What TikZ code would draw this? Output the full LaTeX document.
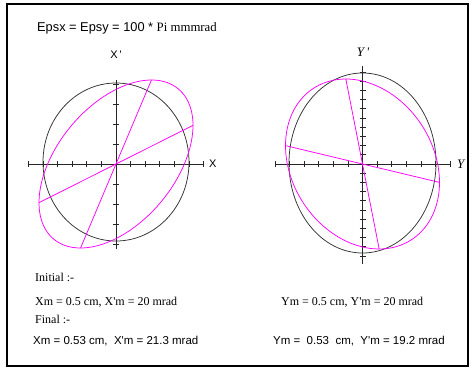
\documentclass[tikz,border=0pt]{standalone}
\usepackage{fontspec}
\setmainfont{Liberation Serif}
\setsansfont{Liberation Sans}
\usetikzlibrary{positioning}
\definecolor{beammag}{RGB}{255,0,255}

\begin{document}
\begin{tikzpicture}[
    x=1pt, y=-1pt,
    frame/.style={draw=black, line width=2pt},
    axis/.style={draw=black!85, line width=0.8pt},
    tick/.style={draw=black!85, line width=0.8pt},
    emittance/.style={draw=black!80, line width=0.75pt},
    beam/.style={draw=beammag, line width=0.75pt},
    serif/.style={font=\fontsize{12}{14}\selectfont\rmfamily, inner sep=0pt, anchor=base west},
    sans/.style={font=\fontsize{11.5}{14}\selectfont\sffamily, inner sep=0pt, anchor=base west},
    axlabel/.style={font=\fontsize{11}{13}\selectfont\sffamily, inner sep=0pt},
    aylabel/.style={font=\fontsize{13}{15}\selectfont\rmfamily\itshape, inner sep=0pt}
]
    \useasboundingbox (0,0) rectangle (472,368);
    \draw[frame] (7,4) rectangle (468,366);

    % Title
    \node[sans, font=\fontsize{12.8}{15}\selectfont\sffamily] (title) at (37,31)
        {Epsx = Epsy = 100 * \rmfamily Pi mmmrad};

    % Left plot (X, X')
    \coordinate (ox) at (116,164);
    \coordinate (xl) at (28,164);
    \coordinate (xr) at (204,164);
    \coordinate (xt) at (116,80);
    \coordinate (xb) at (116,249);
    \draw[axis] (xl) -- (xr);
    \draw[axis] (xt) -- (xb);
    \foreach \k in {-6,...,6} \draw[tick] ({116+14.6*\k},161) -- ({116+14.6*\k},167);
    \foreach \k in {-4,...,4} \draw[tick] (113,{164+20*\k}) -- (119,{164+20*\k});
    \draw[emittance] (116,162) ellipse [x radius=73, y radius=79];
    \draw[beam] plot[domain=0:360, samples=120, smooth cycle]
        ({116+77*cos(\x)},{164-84*cos(\x-62.6)});
    \coordinate (xtop) at ({116+77*cos(62.6)},80);
    \coordinate (xbot) at ({116-77*cos(62.6)},248);
    \coordinate (xrgt) at (193,{164-84*cos(62.6)});
    \coordinate (xlft) at (39,{164+84*cos(62.6)});
    \draw[beam] (xtop) -- (xbot);
    \draw[beam] (xrgt) -- (xlft);
    \node[axlabel] (xplab) at (116,55) {X\,\textquotesingle};
    \node[axlabel, right=5pt of xr] (xlab) {X};

    % Right plot (Y, Y')
    \coordinate (oy) at (362.5,164);
    \coordinate (yl) at (275,164);
    \coordinate (yr) at (450,164);
    \coordinate (yt) at (362.5,66);
    \coordinate (yb) at (362.5,264);
    \draw[axis] (yl) -- (yr);
    \draw[axis] (yt) -- (yb);
    \foreach \k in {-6,...,6} \draw[tick] ({362.5+14.6*\k},161) -- ({362.5+14.6*\k},167);
    \foreach \k in {-10,...,10} \draw[tick] (359.5,{164+9.2*\k}) -- (365.5,{164+9.2*\k});
    \draw[emittance] (362.5,163) ellipse [x radius=73.5, y radius=90];
    \draw[beam] plot[domain=0:360, samples=120, smooth cycle]
        ({362.5+77*cos(\x)},{164-85*cos(\x-102.5)});
    \coordinate (ytop) at ({362.5+77*cos(102.5)},79);
    \coordinate (ybot) at ({362.5-77*cos(102.5)},249);
    \coordinate (yrgt) at (439.5,{164-85*cos(102.5)});
    \coordinate (ylft) at (285.5,{164+85*cos(102.5)});
    \draw[beam] (ytop) -- (ybot);
    \draw[beam] (yrgt) -- (ylft);
    \node[aylabel] (yplab) at (363,52) {Y\,\textquotesingle};
    \node[aylabel, right=7pt of yr] (ylab) {Y};

    % Initial and final values
    \node[serif] (init) at (35,281) {Initial :-};
    \node[serif] (xinit) at (35,305) {Xm = 0.5 cm, X\textquotesingle m = 20 mrad};
    \node[serif] (yinit) at (281,305) {Ym = 0.5 cm, Y\textquotesingle m = 20 mrad};
    \node[serif] (fin) at (35,323) {Final :-};
    \node[sans] (xfin) at (33,344) {Xm = 0.53 cm,\ \ X\textquotesingle m = 21.3 mrad};
    \node[sans] (yfin) at (273,344) {Ym = \ 0.53 \ cm,\ \ Y\textquotesingle m = 19.2 mrad};
\end{tikzpicture}
\end{document}
